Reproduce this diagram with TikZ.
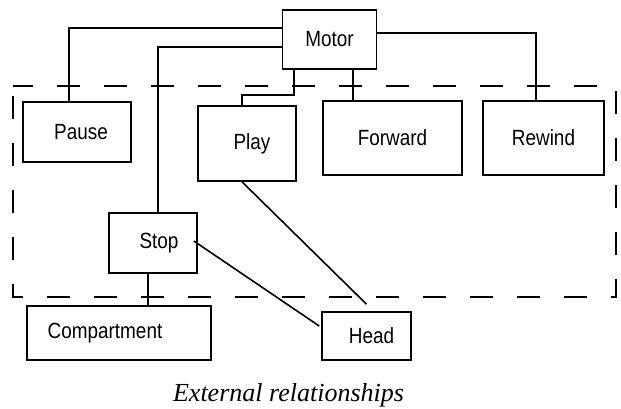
\documentclass[tikz,border=0pt]{standalone}
\usepackage{fontspec}
\setmainfont{Liberation Serif}
\newfontfamily\boxfont{Liberation Sans}[FakeStretch=0.86]
\usetikzlibrary{positioning}

\begin{document}
\begin{tikzpicture}[x=1pt,y=-1pt,line width=1.6pt]

        \useasboundingbox (0,0) rectangle (621,409);

        \draw[line width=1.8pt,dash pattern=on 23pt off 24pt,dash phase=-10pt] (13,86) rectangle (616,297);

        \begin{scope}[every node/.style={draw, rectangle, inner sep=0pt, font=\boxfont\fontsize{22}{26}\selectfont}]
          \node[minimum width=94pt,  minimum height=59pt] (motor)  at (329.5,39.5) {Motor};
          \node[minimum width=108pt, minimum height=60pt] (pause)  at (77,132)    {\hspace*{8pt}Pause};
          \node[minimum width=98pt,  minimum height=75pt] (play)   at (247,143.5) {\hspace*{10pt}Play};
          \node[minimum width=139pt, minimum height=74pt] (fwd)    at (392.5,138) {Forward};
          \node[minimum width=121pt, minimum height=74pt] (rew)    at (543.5,138) {Rewind};
          \node[minimum width=88pt,  minimum height=60pt] (stop)   at (153,243)   {\hspace*{12pt}Stop};
          \node[minimum width=184pt, minimum height=54pt] (comp)   at (119,333)   {Compartment\hspace*{28pt}};
          \node[minimum width=89pt,  minimum height=48pt] (head)   at (366.5,336) {\hspace*{10pt}Head};
        \end{scope}

        \coordinate (playbend) at (242,95);
        \coordinate (mfwd)  at ([xshift=23.5pt]motor.south);
        \coordinate (scomp) at ([xshift=-5pt]stop.south);

        \draw ([yshift=11.5pt]motor.west) -| ([xshift=-8pt]pause.north);
        \draw ([yshift=-7.5pt]motor.west) -| ([xshift=5pt]stop.north);
        \draw ([xshift=-35.5pt]motor.south) |- (playbend) -- (playbend |- play.north);
        \draw (mfwd) -- (mfwd |- fwd.north);
        \draw ([yshift=6.5pt]motor.east) -| ([xshift=-7.5pt]rew.north);
        \draw (scomp) -- (scomp |- comp.north);
        \draw ([shift={(-4pt,2pt)}]stop.east) -- ([shift={(-2pt,10pt)}]head.west);
        \draw ([xshift=-5pt]play.south) -- ([yshift=7pt]head.north);

        \node[anchor=base, font=\itshape\fontsize{26}{30}\selectfont] (caption) at (288.5,401) {External relationships};

      \end{tikzpicture}
\end{document}
